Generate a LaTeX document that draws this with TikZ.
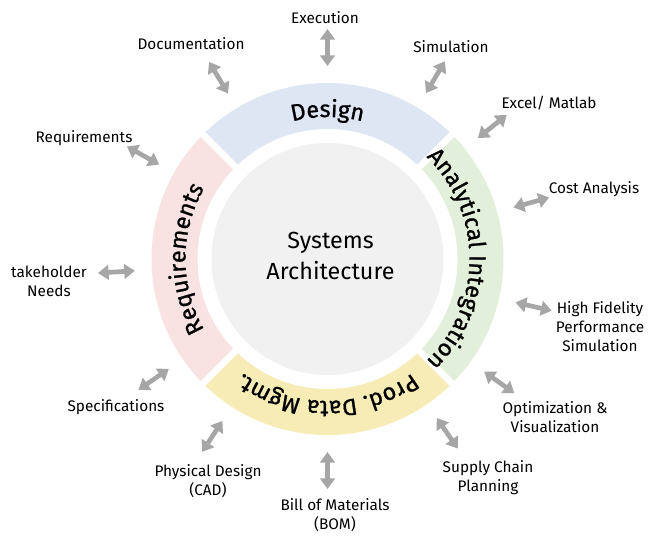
\documentclass[tikz,border=0pt]{standalone}
\usepackage{fontspec}
\setmainfont{Fira Sans}
\newfontfamily\ringfont[FakeBold=1]{Fira Sans}
\usetikzlibrary{arrows.meta,decorations.text}
\definecolor{designblue}{HTML}{DEE6F4}
\definecolor{reqpink}{HTML}{F8E2E2}
\definecolor{anagreen}{HTML}{E2EFDA}
\definecolor{pdmyellow}{HTML}{F7ECB5}
\definecolor{coregray}{HTML}{F1F1F1}
\definecolor{arrowgray}{HTML}{A6A6A6}

\begin{document}
\begin{tikzpicture}[x=0.75pt, y=0.75pt,
    duplex/.style={{Triangle[width=11pt,length=8pt]}-{Triangle[width=11pt,length=8pt]}, line width=3.5pt, draw=arrowgray},
    item/.style={font=\fontsize{11.5}{14.25}\selectfont, align=center, inner sep=0pt},
    ringtext/.style={decorate, decoration={text along path, text align=center,
        text={|\ringfont\fontsize{17.5}{20}\selectfont|#1}}}]
        \useasboundingbox (-327.5,-276) rectangle (331.5,259);
        % Ring
        \fill[designblue] (0,0) -- (45:176) arc[start angle=45, end angle=135, radius=176] -- cycle;
        \fill[reqpink] (0,0) -- (135:176) arc[start angle=135, end angle=225, radius=176] -- cycle;
        \fill[pdmyellow] (0,0) -- (225:176) arc[start angle=225, end angle=315, radius=176] -- cycle;
        \fill[anagreen] (0,0) -- (-45:176) arc[start angle=-45, end angle=45, radius=176] -- cycle;
        \foreach \a in {45,135,225,315}
        {
        \draw[white, line width=5pt] (0,0) -- (\a:185);
        }
        \fill[white] (0,0) circle[radius=130];
        \fill[coregray] (0,0) circle[radius=116];
        % Ring labels
        \path[ringtext=Design] (135:142) arc[start angle=135, end angle=45, radius=142];
        \path[ringtext=Analytical Integration] (45:142) arc[start angle=45, end angle=-45, radius=142];
        \path[ringtext=Prod. Data Mgmt.] (-45:142) arc[start angle=-45, end angle=-135, radius=142];
        \path[ringtext=Requirements] (-135:142) arc[start angle=-135, end angle=-225, radius=142];
        % Core
        \node[font=\fontsize{17.5}{23}\selectfont, align=center] (core) at (3,3) {Systems\\Architecture};
        % Arrows
        \foreach \ang [count=\i] in {90,121,59.3,38.8,150.7,15.5,183.5,-13,-35.7,-55.5,-90,-123,-145.3}
        {
        \coordinate (in\i) at (\ang:193);
        \coordinate (out\i) at (\ang:230);
        \draw[duplex] (in\i) -- (out\i);
        }
        % Labels
        \node[item] (execution) at (-2.5,241) {Execution};
        \node[item] (documentation) at (-136.5,215) {Documentation};
        \node[item] (simulation) at (123.5,212) {Simulation};
        \node[item] (excel) at (221.5,156) {Excel/ Matlab};
        \node[item] (requirements) at (-243.5,121) {Requirements};
        \node[item] (cost) at (266.5,70) {Cost Analysis};
        \node[item] (stakeholder) at (-278.5,-22) {takeholder\\Needs};
        \node[item] (fidelity) at (272.5,-68) {High Fidelity\\Performance\\Simulation};
        \node[item] (optimization) at (227.5,-158.5) {Optimization \&\\Visualization};
        \node[item] (supplychain) at (160.5,-218.5) {Supply Chain\\Planning};
        \node[item] (bom) at (7.5,-256.5) {Bill of Materials\\(BOM)};
        \node[item] (cad) at (-119.5,-222.5) {Physical Design\\(CAD)};
        \node[item] (specifications) at (-211.5,-148) {Specifications};
\end{tikzpicture}
\end{document}
